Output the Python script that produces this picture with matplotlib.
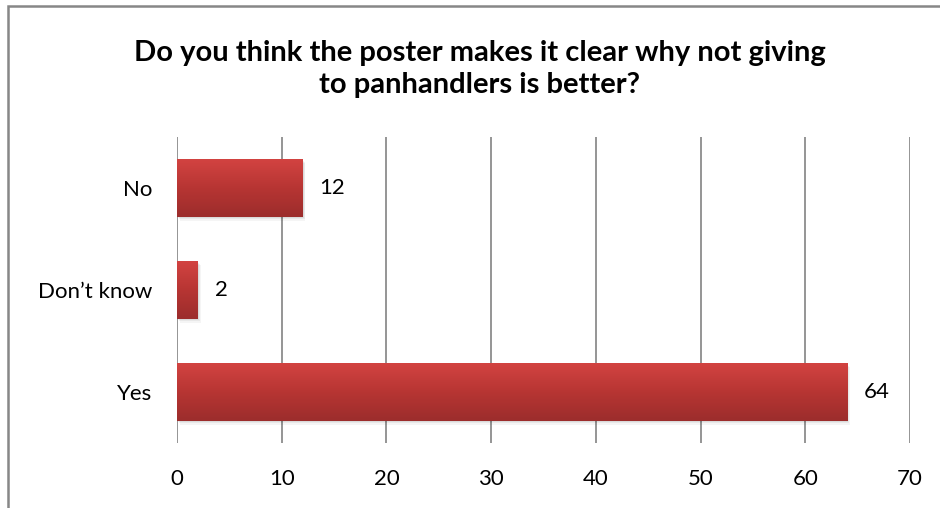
import matplotlib
matplotlib.use("Agg")
import matplotlib.pyplot as plt
import numpy as np
from matplotlib.patches import Rectangle
from matplotlib.colors import LinearSegmentedColormap

categories = ["Yes", "Don\u2019t know", "No"]
values = [64, 2, 12]
xticks = [0, 10, 20, 30, 40, 50, 60, 70]
title = "Do you think the poster makes it clear why not giving\nto panhandlers is better?"

plt.rcParams['font.family'] = ['Lato', 'DejaVu Sans']

fig = plt.figure(figsize=(9.4, 5.08), dpi=100)
ax = fig.add_axes([177/940, 1-443/508, (910-177)/940, (443-137)/508])

# frame of chart area
fig.patches.append(Rectangle((8/940, -0.1), 1.2, (1-6/508)+0.1, transform=fig.transFigure,
                             fill=False, edgecolor='#878787', linewidth=1.8))

cmap = LinearSegmentedColormap.from_list("g", ["#d24341", "#b73533", "#9c2d2c"])
h = 0.56
y = np.arange(len(categories))
bars = ax.barh(y, values, height=h, color='#c03a38', zorder=3)
for b in bars:
    x0, y0 = b.get_x(), b.get_y()
    w, hh = b.get_width(), b.get_height()
    # soft shadow
    for k, a in enumerate([0.06, 0.05, 0.04]):
        ax.add_patch(Rectangle((x0 + 0.1 + 0.08 * k, y0 - 0.015 - 0.012 * k), w, hh,
                               facecolor='#000000', alpha=a, zorder=2, linewidth=0))
    grad = np.linspace(0, 1, 100).reshape(-1, 1)
    im = ax.imshow(grad, cmap=cmap, aspect='auto', extent=[x0, x0 + w, y0, y0 + hh],
                   origin='upper', zorder=4)
    im.set_clip_path(b)

for yi, v in zip(y, values):
    ax.annotate(str(v), (v, yi), xytext=(12, 0), textcoords='offset points',
                va='center', ha='left', fontsize=16, color='black')

ax.set_xlim(0, 70)
ax.set_ylim(-0.5, 2.5)
ax.set_xticks(xticks)
ax.set_xticklabels([str(t) for t in xticks], fontsize=16)
ax.set_yticks(y)
ax.set_yticklabels(categories, fontsize=16)
ax.tick_params(axis='x', length=0, pad=19)
ax.tick_params(axis='y', length=0, pad=18)
ax.grid(axis='x', color='#8c8c8c', linewidth=1.3, zorder=0)
ax.set_axisbelow(True)
for s in ax.spines.values():
    s.set_visible(False)

fig.text(480/940, 1-69/508, title, ha='center', va='center', fontsize=21,
         fontweight='bold', linespacing=1.3)

fig.savefig("out.png", dpi=100)
